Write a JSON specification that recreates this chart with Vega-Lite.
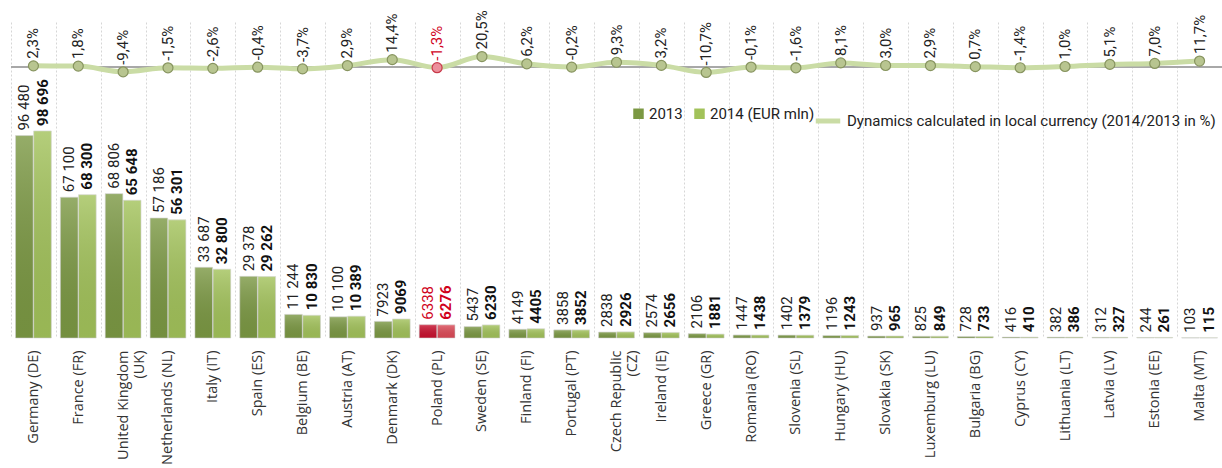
{
  "$schema": "https://vega.github.io/schema/vega-lite/v6.json",
  "width": 1211,
  "height": 316,
  "autosize": {"type": "none"},
  "padding": {"left": 11, "top": 22, "right": 0, "bottom": 130},
  "config": {
    "view": {"stroke": null},
    "locale": {"number": {"decimal": ",", "thousands": " ", "grouping": [3], "currency": ["", ""], "minus": "-"}}
  },
  "datasets": {
    "sales": [
      {"country": "Germany (DE)", "year": "2013", "value": 96480}, {"country": "Germany (DE)", "year": "2014", "value": 98696},
      {"country": "France (FR)", "year": "2013", "value": 67100}, {"country": "France (FR)", "year": "2014", "value": 68300},
      {"country": "United Kingdom (UK)", "year": "2013", "value": 68806}, {"country": "United Kingdom (UK)", "year": "2014", "value": 65648},
      {"country": "Netherlands (NL)", "year": "2013", "value": 57186}, {"country": "Netherlands (NL)", "year": "2014", "value": 56301},
      {"country": "Italy (IT)", "year": "2013", "value": 33687}, {"country": "Italy (IT)", "year": "2014", "value": 32800},
      {"country": "Spain (ES)", "year": "2013", "value": 29378}, {"country": "Spain (ES)", "year": "2014", "value": 29262},
      {"country": "Belgium (BE)", "year": "2013", "value": 11244}, {"country": "Belgium (BE)", "year": "2014", "value": 10830},
      {"country": "Austria (AT)", "year": "2013", "value": 10100}, {"country": "Austria (AT)", "year": "2014", "value": 10389},
      {"country": "Denmark (DK)", "year": "2013", "value": 7923}, {"country": "Denmark (DK)", "year": "2014", "value": 9069},
      {"country": "Poland (PL)", "year": "2013", "value": 6338}, {"country": "Poland (PL)", "year": "2014", "value": 6276},
      {"country": "Sweden (SE)", "year": "2013", "value": 5437}, {"country": "Sweden (SE)", "year": "2014", "value": 6230},
      {"country": "Finland (FI)", "year": "2013", "value": 4149}, {"country": "Finland (FI)", "year": "2014", "value": 4405},
      {"country": "Portugal (PT)", "year": "2013", "value": 3858}, {"country": "Portugal (PT)", "year": "2014", "value": 3852},
      {"country": "Czech Republic (CZ)", "year": "2013", "value": 2838}, {"country": "Czech Republic (CZ)", "year": "2014", "value": 2926},
      {"country": "Ireland (IE)", "year": "2013", "value": 2574}, {"country": "Ireland (IE)", "year": "2014", "value": 2656},
      {"country": "Greece (GR)", "year": "2013", "value": 2106}, {"country": "Greece (GR)", "year": "2014", "value": 1881},
      {"country": "Romania (RO)", "year": "2013", "value": 1447}, {"country": "Romania (RO)", "year": "2014", "value": 1438},
      {"country": "Slovenia (SL)", "year": "2013", "value": 1402}, {"country": "Slovenia (SL)", "year": "2014", "value": 1379},
      {"country": "Hungary (HU)", "year": "2013", "value": 1196}, {"country": "Hungary (HU)", "year": "2014", "value": 1243},
      {"country": "Slovakia (SK)", "year": "2013", "value": 937}, {"country": "Slovakia (SK)", "year": "2014", "value": 965},
      {"country": "Luxemburg (LU)", "year": "2013", "value": 825}, {"country": "Luxemburg (LU)", "year": "2014", "value": 849},
      {"country": "Bulgaria (BG)", "year": "2013", "value": 728}, {"country": "Bulgaria (BG)", "year": "2014", "value": 733},
      {"country": "Cyprus (CY)", "year": "2013", "value": 416}, {"country": "Cyprus (CY)", "year": "2014", "value": 410},
      {"country": "Lithuania (LT)", "year": "2013", "value": 382}, {"country": "Lithuania (LT)", "year": "2014", "value": 386},
      {"country": "Latvia (LV)", "year": "2013", "value": 312}, {"country": "Latvia (LV)", "year": "2014", "value": 327},
      {"country": "Estonia (EE)", "year": "2013", "value": 244}, {"country": "Estonia (EE)", "year": "2014", "value": 261},
      {"country": "Malta (MT)", "year": "2013", "value": 103}, {"country": "Malta (MT)", "year": "2014", "value": 115}
    ],
    "dyn": [
      {"country": "Germany (DE)", "pct": 0.023}, {"country": "France (FR)", "pct": 0.018},
      {"country": "United Kingdom (UK)", "pct": -0.094}, {"country": "Netherlands (NL)", "pct": -0.015},
      {"country": "Italy (IT)", "pct": -0.026}, {"country": "Spain (ES)", "pct": -0.004},
      {"country": "Belgium (BE)", "pct": -0.037}, {"country": "Austria (AT)", "pct": 0.029},
      {"country": "Denmark (DK)", "pct": 0.144}, {"country": "Poland (PL)", "pct": -0.013},
      {"country": "Sweden (SE)", "pct": 0.205}, {"country": "Finland (FI)", "pct": 0.062},
      {"country": "Portugal (PT)", "pct": -0.002}, {"country": "Czech Republic (CZ)", "pct": 0.093},
      {"country": "Ireland (IE)", "pct": 0.032}, {"country": "Greece (GR)", "pct": -0.107},
      {"country": "Romania (RO)", "pct": -0.001}, {"country": "Slovenia (SL)", "pct": -0.016},
      {"country": "Hungary (HU)", "pct": 0.081}, {"country": "Slovakia (SK)", "pct": 0.030},
      {"country": "Luxemburg (LU)", "pct": 0.029}, {"country": "Bulgaria (BG)", "pct": 0.007},
      {"country": "Cyprus (CY)", "pct": -0.014}, {"country": "Lithuania (LT)", "pct": 0.010},
      {"country": "Latvia (LV)", "pct": 0.051}, {"country": "Estonia (EE)", "pct": 0.070},
      {"country": "Malta (MT)", "pct": 0.117}
    ]
  },
  "resolve": {"scale": {"y": "independent", "color": "independent"}},
  "layer": [
    {
      "data": {"name": "sales"},
      "layer": [
        {
          "mark": {"type": "bar", "stroke": "#d4d4d4", "strokeWidth": 0.6},
          "encoding": {
            "x": {
              "field": "country", "type": "nominal",
              "scale": {"domain": ["Germany (DE)", "France (FR)", "United Kingdom (UK)", "Netherlands (NL)", "Italy (IT)", "Spain (ES)", "Belgium (BE)", "Austria (AT)", "Denmark (DK)", "Poland (PL)", "Sweden (SE)", "Finland (FI)", "Portugal (PT)", "Czech Republic (CZ)", "Ireland (IE)", "Greece (GR)", "Romania (RO)", "Slovenia (SL)", "Hungary (HU)", "Slovakia (SK)", "Luxemburg (LU)", "Bulgaria (BG)", "Cyprus (CY)", "Lithuania (LT)", "Latvia (LV)", "Estonia (EE)", "Malta (MT)"], "paddingInner": 0, "paddingOuter": 0},
              "axis": {
                "title": null, "labelAngle": -90, "labelAlign": "right", "labelBaseline": "middle",
                "labelFont": "Open Sans", "labelFontSize": 14.5, "labelColor": "#333333", "labelPadding": 12,
                "labelLimit": 300, "labelLineHeight": 16,
                "labelExpr": "datum.value == 'United Kingdom (UK)' ? ['United Kingdom', '(UK)'] : (datum.value == 'Czech Republic (CZ)' ? ['Czech Republic', '(CZ)'] : datum.value)",
                "ticks": false, "domain": false, "grid": true, "gridDash": [2, 2], "gridColor": "#d6d6d6", "gridWidth": 1, "tickBand": "extent"
              }
            },
            "xOffset": {"field": "year", "type": "nominal", "scale": {"domain": ["2013", "2014"], "paddingOuter": 0.25, "paddingInner": 0.03}},
            "y": {"field": "value", "type": "quantitative", "scale": {"domain": [0, 150600], "nice": false}, "axis": null},
            "color": {
              "condition": [
                {"test": "datum.country === 'Poland (PL)' && datum.year === '2013'", "value": "#c8102e"},
                {"test": "datum.country === 'Poland (PL)'", "value": "#dc4a57"}
              ],
              "field": "year", "type": "nominal",
              "scale": {"domain": ["2013", "2014"], "range": ["#7b9843", "#a2c25a"]},
              "legend": {
                "title": null, "orient": "none", "legendX": 620, "legendY": 84, "direction": "horizontal",
                "symbolType": "square", "symbolSize": 110, "symbolStrokeWidth": 0,
                "labelFont": "Roboto", "labelFontSize": 15, "labelColor": "#222222", "columnPadding": 9, "labelOffset": 3,
                "labelExpr": "datum.label == '2014' ? '2014 (EUR mln)' : datum.label"
              }
            }
          }
        },
        {
          "mark": {"type": "bar", "color": {"gradient": "linear", "x1": 0, "y1": 0, "x2": 0, "y2": 1, "stops": [{"offset": 0, "color": "rgba(255,255,255,0.2)"}, {"offset": 1, "color": "rgba(0,0,0,0.06)"}]}},
          "encoding": {
            "x": {"field": "country", "type": "nominal"},
            "xOffset": {"field": "year", "type": "nominal"},
            "y": {"field": "value", "type": "quantitative"}
          }
        },
        {
          "transform": [{"filter": "datum.year === '2013'"}],
          "mark": {"type": "text", "angle": 270, "align": "left", "baseline": "middle", "dx": 5, "font": "Roboto", "fontSize": 15,
                   "text": {"expr": "datum.value >= 10000 ? format(datum.value, ',') : format(datum.value, 'd')"}},
          "encoding": {
            "x": {"field": "country", "type": "nominal"},
            "xOffset": {"field": "year", "type": "nominal"},
            "y": {"field": "value", "type": "quantitative"},
            "color": {"condition": {"test": "datum.country === 'Poland (PL)'", "value": "#d0021b"}, "value": "#222222"}
          }
        },
        {
          "transform": [{"filter": "datum.year === '2014'"}],
          "mark": {"type": "text", "angle": 270, "align": "left", "baseline": "middle", "dx": 5, "font": "Roboto", "fontSize": 15, "fontWeight": "bold",
                   "text": {"expr": "datum.value >= 10000 ? format(datum.value, ',') : format(datum.value, 'd')"}},
          "encoding": {
            "x": {"field": "country", "type": "nominal"},
            "xOffset": {"field": "year", "type": "nominal"},
            "y": {"field": "value", "type": "quantitative"},
            "color": {"condition": {"test": "datum.country === 'Poland (PL)'", "value": "#d0021b"}, "value": "#111111"}
          }
        }
      ]
    },
    {
      "layer": [
        {
          "data": {"values": [{}]},
          "mark": {"type": "rule", "color": "#a8a8a8", "strokeWidth": 2},
          "encoding": {"y": {"datum": 0, "type": "quantitative", "scale": {"domain": [-5.31, 0.882], "nice": false, "zero": false}, "axis": null}}
        },
        {
          "data": {"name": "dyn"},
          "mark": {"type": "line", "strokeWidth": 5, "interpolate": "monotone"},
          "encoding": {
            "x": {"field": "country", "type": "nominal"},
            "y": {"field": "pct", "type": "quantitative"},
            "color": {
              "datum": "Dynamics calculated in local currency (2014/2013 in %)",
              "scale": {"range": ["#cadca5"]},
              "legend": {
                "title": null, "orient": "none", "legendX": 802, "legendY": 84,
                "symbolType": "stroke", "symbolStrokeWidth": 5, "symbolSize": 600, "labelLimit": 500,
                "labelFont": "Roboto", "labelFontSize": 15, "labelColor": "#222222", "labelOffset": 4
              }
            }
          }
        },
        {
          "data": {"name": "dyn"},
          "mark": {"type": "point", "filled": true, "size": 100, "opacity": 1, "strokeWidth": 1.2},
          "encoding": {
            "x": {"field": "country", "type": "nominal"},
            "y": {"field": "pct", "type": "quantitative"},
            "fill": {"condition": {"test": "datum.country === 'Poland (PL)'", "value": "#ec8f9b"}, "value": "#b8c590"},
            "stroke": {"condition": {"test": "datum.country === 'Poland (PL)'", "value": "#c83a4a"}, "value": "#87945f"}
          }
        },
        {
          "data": {"name": "dyn"},
          "mark": {"type": "text", "angle": 270, "align": "left", "baseline": "middle", "dx": 7, "font": "Roboto", "fontSize": 15},
          "encoding": {
            "x": {"field": "country", "type": "nominal"},
            "y": {"field": "pct", "type": "quantitative"},
            "text": {"field": "pct", "type": "quantitative", "format": ".1%"},
            "color": {"condition": {"test": "datum.country === 'Poland (PL)'", "value": "#d0021b"}, "value": "#222222"}
          }
        }
      ]
    }
  ]
}
